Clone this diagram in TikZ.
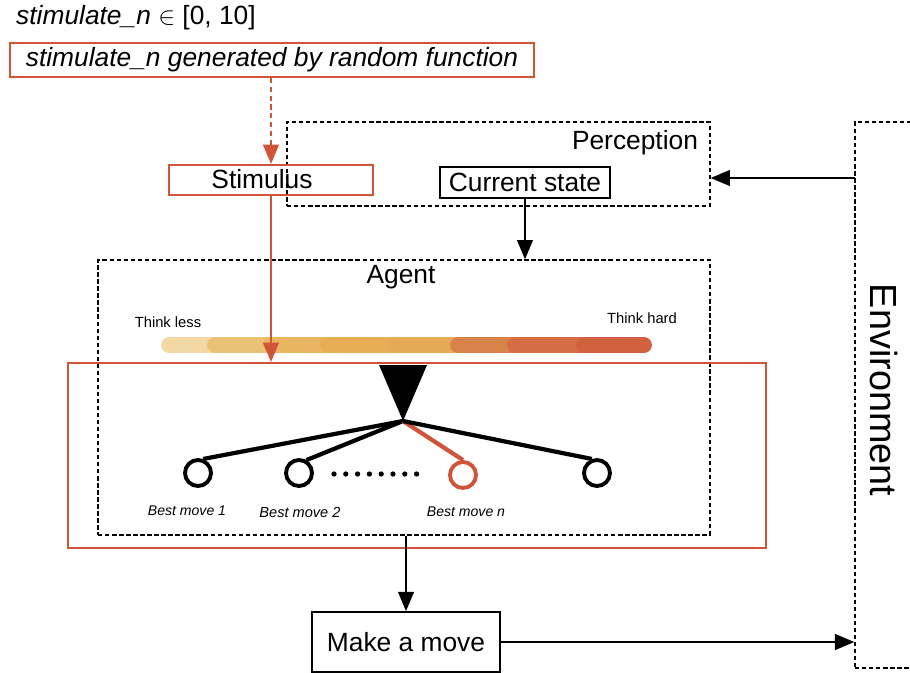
\documentclass[tikz,border=0pt]{standalone}
\usepackage{fontspec}
\setmainfont{Liberation Sans}
\usetikzlibrary{arrows.meta}

\definecolor{rosso}{RGB}{208,84,58}
\definecolor{barA}{HTML}{F2D8A4}
\definecolor{barB}{HTML}{EAC277}
\definecolor{barC}{HTML}{E8B661}
\definecolor{barD}{HTML}{E7AE56}
\definecolor{barE}{HTML}{E5AA55}
\definecolor{barF}{HTML}{D8834A}
\definecolor{barG}{HTML}{D56E44}
\definecolor{barH}{HTML}{D2623F}

\tikzset{
  testo/.style={font=\fontsize{15}{18}\selectfont},
  piccolo/.style={font=\fontsize{8.4}{10}\selectfont},
  mossa/.style={font=\fontsize{8}{10}\selectfont\itshape},
  scatola/.style={draw, line width=1pt, inner sep=0pt},
  scatolarossa/.style={draw=rosso, line width=1.2pt, inner sep=0pt},
  tratteggio/.style={draw, line width=0.8pt, dash pattern=on 2.5pt off 1.5pt, inner sep=0pt},
  freccia/.style={-{Triangle[length=11pt,width=9pt]}, line width=1pt},
  nodo/.style={circle, draw, line width=2.2pt, minimum size=0.52cm, inner sep=0pt},
  ramo/.style={line width=2.4pt},
}

\begin{document}
\begin{tikzpicture}[x=0.02cm,y=-0.02cm]
    \useasboundingbox (0,0) rectangle (910,673);

    %%%%%%%%% Testo %%%%%%%%%%
    \node[testo, anchor=west] (titolo) at (10,18) {\textit{stimulate\_n} $\in$ [0, 10]};
    \node[testo, scatolarossa, minimum width=10.48cm, minimum height=0.68cm] (random) at (272,60)
        {\textit{stimulate\_n generated by random function}};

    %%%%%%%%% Scatole %%%%%%%%%
    \node[tratteggio, minimum width=8.46cm, minimum height=1.68cm] (perc) at (498.5,164) {};
    \node[testo] (perclbl) at (635,143) {Perception};
    \node[scatolarossa, minimum width=4.08cm, minimum height=0.6cm] (stim) at (271,180) {};
    \node[testo] (stimlbl) at (262,179) {Stimulus};
    \node[testo, scatola, minimum width=3.4cm, minimum height=0.62cm] (cur) at (525,182.5) {Current state};

    \node[tratteggio, minimum width=12.24cm, minimum height=5.5cm] (agent) at (404,397.5) {};
    \node[testo] (agentlbl) at (401,277) {Agent};
    \node[scatolarossa, minimum width=13.96cm, minimum height=3.7cm] (scelta) at (417,455.5) {};

    \node[testo, scatola, minimum width=3.76cm, minimum height=1.2cm] (move) at (406,642) {Make a move};

    \node[tratteggio, minimum width=1.5cm, minimum height=10.92cm] (env) at (892.5,395) {};
    \node[font=\fontsize{21.5}{24}\selectfont, rotate=-90] (envlbl) at (884,390) {Environment};

    %%%%%%%%% Barra %%%%%%%%%
    \node[piccolo] (meno) at (168,322) {Think less};
    \node[piccolo] (piu) at (642,318) {Think hard};
    \begin{scope}[line width=9pt, line cap=round]
        \draw[barA] (169,345) -- (222,345);
        \draw[barB] (215,345) -- (278,345);
        \draw[barC] (271,345) -- (335,345);
        \draw[barD] (328,345) -- (404,345);
        \draw[barE] (397,345) -- (465,345);
        \draw[barF] (458,345) -- (522,345);
        \draw[barG] (515,345) -- (591,345);
        \draw[barH] (584,345) -- (644,345);
    \end{scope}

    %%%%%%%%% Albero %%%%%%%%%
    \coordinate (apice) at (403,421);
    \fill (379,365) -- (427,365) -- (apice) -- cycle;
    \node[nodo] (m1) at (198,473) {};
    \node[nodo] (m2) at (299,473) {};
    \node[nodo, draw=rosso] (mn) at (463,475) {};
    \node[nodo] (m4) at (597,473) {};
    \draw[ramo] (apice) -- (m1.70);
    \draw[ramo] (apice) -- (m2.60);
    \draw[ramo, rosso] (apice) -- (mn.north);
    \draw[ramo] (apice) -- (m4.110);
    \foreach \i in {0,...,7}
        \fill (334+\i*11.8,474) circle (1.5pt);
    \node[mossa] (l1) at (187,511) {Best move 1};
    \node[mossa, font=\fontsize{8.3}{10}\selectfont\itshape] (l2) at (300,512) {Best move 2};
    \node[mossa] (ln) at (466,512) {Best move n};

    %%%%%%%%% Frecce %%%%%%%%%
    \draw[freccia, rosso, dash pattern=on 3pt off 2pt] (stim.north |- random.south) -- (stim.north);
    \draw[freccia, rosso] (stim.south) -- (stim.south |- scelta.north);
    \draw[freccia] (cur.south) -- (cur.south |- agent.north);
    \coordinate (envin) at (855,178);
    \draw[freccia] (envin) -- (envin -| perc.east);
    \draw[freccia] (move.north |- agent.south) -- (move.north);
    \draw[freccia] (move.east) -- (move.east -| env.west);
\end{tikzpicture}
\end{document}
